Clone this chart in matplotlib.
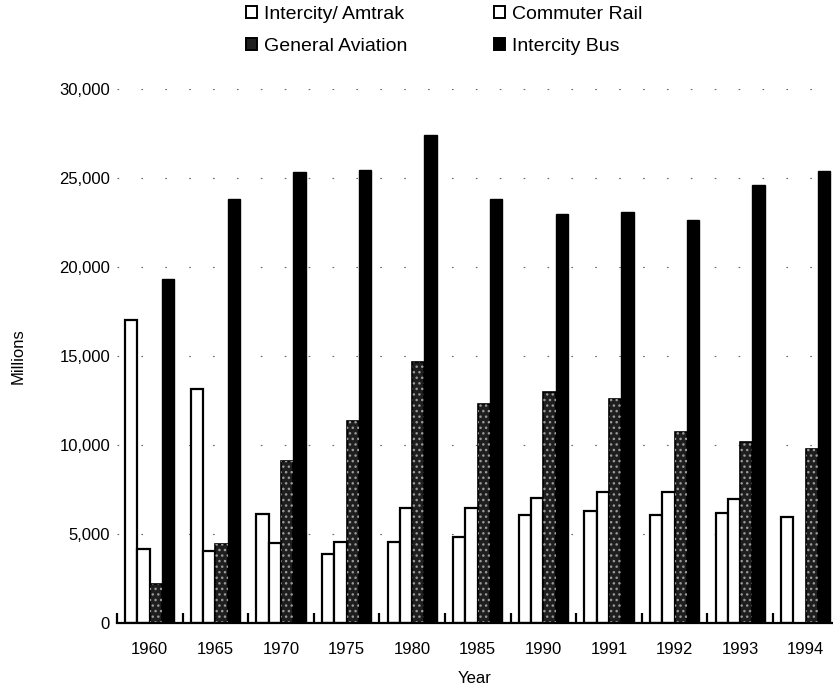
import numpy as np
import matplotlib
matplotlib.use("Agg")
import matplotlib.pyplot as plt
from matplotlib.patches import Patch

plt.rcParams['font.family'] = ['Liberation Sans', 'DejaVu Sans']

# Passenger-miles by mode (millions)
years = ["1960", "1965", "1970", "1975", "1980", "1985",
         "1990", "1991", "1992", "1993", "1994"]
intercity_amtrak = [17000, 13150, 6150, 3900, 4550, 4830, 6060, 6270, 6060, 6180, 5950]
commuter_rail = [4150, 4050, 4500, 4550, 6450, 6480, 7050, 7380, 7380, 6950, np.nan]
general_aviation = [2200, 4420, 9100, 11350, 14650, 12330, 13000, 12580, 10720, 10180, 9760]
intercity_bus = [19300, 23800, 25350, 25450, 27400, 23800, 22980, 23100, 22650, 24600, 25400]

series_labels = ["Intercity/ Amtrak", "Commuter Rail", "General Aviation", "Intercity Bus"]
y_ticks = [0, 5000, 10000, 15000, 20000, 25000, 30000]

fig = plt.figure(figsize=(8.33, 6.92), dpi=100)
ax = fig.add_axes([117 / 833, 69 / 692, 716 / 833, 534 / 692])

x = np.arange(len(years))
w = 0.1875
offsets = [-1.5 * w, -0.5 * w, 0.5 * w, 1.5 * w]

# sparse dotted guide lines
for yv in y_ticks[1:]:
    ax.axhline(yv, color="#666666", lw=0.8, ls=(0, (1.5, 20)), zorder=0)

ax.bar(x + offsets[0], intercity_amtrak, w, facecolor="white",
       edgecolor="black", linewidth=1.6, zorder=2)
ax.bar(x + offsets[1], commuter_rail, w, facecolor="white",
       edgecolor="black", linewidth=1.6, zorder=2)
ax.bar(x + offsets[2], general_aviation, w, facecolor="#1e1e1e",
       edgecolor="black", linewidth=1.2, zorder=2)
# speckled texture on the aviation bars
ax.bar(x + offsets[2], general_aviation, w, facecolor="none",
       edgecolor="#9a9a9a", linewidth=0, hatch="...", zorder=3)
ax.bar(x + offsets[3], intercity_bus, w, facecolor="black",
       edgecolor="black", linewidth=1.0, zorder=2)

ax.set_xlim(-0.5, 10.415)
ax.set_ylim(0, 30000)
ax.set_yticks(y_ticks)
ax.set_yticklabels([f"{v:,}" for v in y_ticks])
ax.set_xticks(x)
ax.set_xticklabels(years)
ax.set_xticks(np.arange(len(years)) - 0.5, minor=True)

for side in ("top", "right", "left"):
    ax.spines[side].set_visible(False)
ax.spines["bottom"].set_linewidth(1.6)
ax.spines["bottom"].set_zorder(4)

ax.tick_params(axis="y", length=0, pad=5, labelsize=12)
ax.tick_params(axis="x", which="major", length=0, pad=14, labelsize=12)
ax.tick_params(axis="x", which="minor", direction="in", length=7, width=1.6)

ax.set_xlabel("Year", fontsize=12, labelpad=10)
ax.set_ylabel("Millions", fontsize=12, labelpad=24)

handles = [
    Patch(facecolor="white", edgecolor="black", linewidth=1.4, label=series_labels[0]),
    Patch(facecolor="#1e1e1e", edgecolor="black", linewidth=1.4, label=series_labels[2]),
    Patch(facecolor="white", edgecolor="black", linewidth=1.4, label=series_labels[1]),
    Patch(facecolor="black", edgecolor="black", linewidth=1.4, label=series_labels[3]),
]
fig.legend(handles=handles, ncol=2, loc="upper left",
           bbox_to_anchor=(246 / 833, 1 - 6 / 692), frameon=False,
           fontsize=14, handlelength=0.55, handleheight=0.55,
           handletextpad=0.35, columnspacing=4.5, labelspacing=0.75,
           borderpad=0, borderaxespad=0)

fig.savefig("out.png", dpi=100)
